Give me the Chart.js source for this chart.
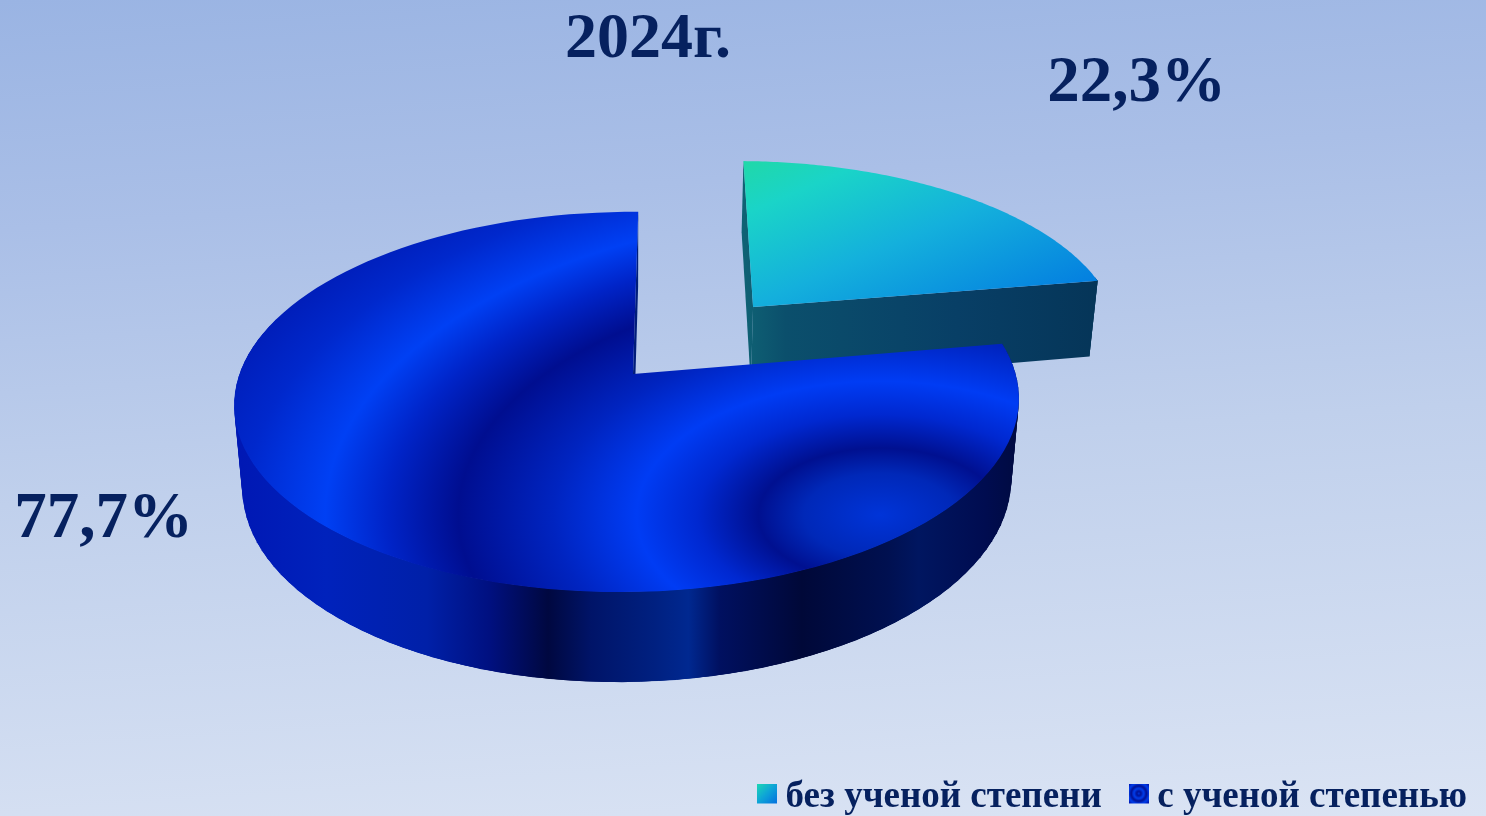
<!DOCTYPE html>
<html>
<head>
<meta charset="utf-8">
<script src="https://cdn.jsdelivr.net/npm/chart.js@4"></script>
<style>
  html, body { margin: 0; padding: 0; width: 1486px; height: 816px; overflow: hidden; }
  body { background: linear-gradient(176deg, #9ab4e3 0%, #aabfe7 25%, #c0d0ec 55%, #dbe4f4 100%); }
  canvas { display: block; }
</style>
</head>
<body>
<canvas id="c" width="1486" height="816"></canvas>
<script>
const titleText = '2024г.';
const categories = ['без ученой степени', 'с ученой степенью'];
const values = [22.3, 77.7];
const valueLabels = ['22,3%', '77,7%'];
const pieColors = ['#10a0d8', '#0030e0'];
const explode = [100, 0];

const TEXT = '#06215f';
const SERIF = '"Liberation Serif", serif';

// проекция единичного круга диска на экран (перспектива 3D-диаграммы)
const P = { cx: 633, cy: 374, A: 388, B: 186, C: -6, H: 83, k: 0.147, m: 0.014, n: 0.02 };
function proj(u, v, z) {
  const w = 1 - P.k * v + P.m * u + P.n * z;
  return [P.cx + (P.A * u + P.C * v) / w, P.cy + (P.B * v + P.H * z) / w];
}

function outline(arc) {
  const { startAngle, endAngle, outerRadius } = arc;
  const mid = (startAngle + endAngle) / 2;
  const off = arc.options.offset / outerRadius;
  const ox = Math.cos(mid) * off, oy = Math.sin(mid) * off;
  const pts = [[ox, oy]];
  const n = 120;
  for (let i = 0; i <= n; i++) {
    const a = startAngle + (endAngle - startAngle) * i / n;
    pts.push([ox + Math.cos(a), oy + Math.sin(a), Math.sin(a)]);
  }
  return pts;
}

function wallStyle(ctx, i) {
  const g = i === 0 ? ctx.createLinearGradient(743, 0, 1100, 0) : ctx.createLinearGradient(240, 0, 1020, 0);
  const stops = i === 0
    ? [[0, '#0f6274'], [0.12, '#0b4f6c'], [0.6, '#083f66'], [1, '#053558']]
    : [[0, '#0018b4'], [0.11, '#0022bc'], [0.24, '#0020a8'], [0.32, '#001080'], [0.395, '#000840'],
       [0.45, '#001468'], [0.53, '#002080'], [0.575, '#002890'], [0.615, '#001060'], [0.72, '#000838'],
       [0.83, '#001050'], [0.87, '#001660'], [0.955, '#000c50'], [1, '#000a40']];
  stops.forEach(s => g.addColorStop(s[0], s[1]));
  return g;
}

function fillPoly(ctx, poly) {
  ctx.beginPath();
  poly.forEach((s, j) => { if (j) ctx.lineTo(s[0], s[1]); else ctx.moveTo(s[0], s[1]); });
  ctx.closePath();
  ctx.fill();
}

function strip(a, b) {
  return [proj(a[0], a[1], 0), proj(b[0], b[1], 0), proj(b[0], b[1], 1), proj(a[0], a[1], 1)];
}

function drawSlice(ctx, arc, i) {
  const pts = outline(arc);
  const last = pts.length - 1;
  ctx.fillStyle = wallStyle(ctx, i);
  // плоские грани: у большого сектора задняя не видна
  if (i === 0) fillPoly(ctx, strip(pts[0], pts[1]));
  fillPoly(ctx, strip(pts[last], pts[0]));
  // внешняя дуга: куски внахлёст, чтобы не было швов, задняя часть не рисуется
  for (let j = 1; j < last; j++) {
    if (pts[j][2] < -0.2) continue;
    fillPoly(ctx, strip(pts[j], pts[Math.min(j + 3, last)]));
  }

  ctx.beginPath();
  pts.forEach((p, j) => {
    const s = proj(p[0], p[1], 0);
    if (j) ctx.lineTo(s[0], s[1]); else ctx.moveTo(s[0], s[1]);
  });
  ctx.closePath();
  ctx.save();
  if (i === 0) {
    const g = ctx.createLinearGradient(745, 160, 842, 387);
    g.addColorStop(0, '#20d8a8');
    g.addColorStop(0.2, '#1ad4c8');
    g.addColorStop(0.55, '#14b0dc');
    g.addColorStop(1, '#0480e0');
    ctx.fillStyle = g;
  } else {
    // концентрические полосы заливки
    ctx.translate(880, 515);
    ctx.scale(1, 0.55);
    const g = ctx.createRadialGradient(0, 0, 0, 0, 0, 760);
    [[0, '#0034d8'], [0.1, '#0028b8'], [0.16, '#001090'], [0.24, '#0028d0'], [0.32, '#003cf4'],
     [0.43, '#0024c0'], [0.555, '#000e90'], [0.65, '#0024c8'], [0.73, '#0040f4'], [0.84, '#0028cc'], [1, '#0014a8']]
      .forEach(s => g.addColorStop(s[0], s[1]));
    ctx.fillStyle = g;
  }
  ctx.fill();
  ctx.restore();
}

function icon(i) {
  // холст выше значка: легенда центрирует его по строке, а значок стоит чуть выше
  const cv = document.createElement('canvas');
  cv.width = 20; cv.height = 28;
  const x = cv.getContext('2d');
  if (i === 0) {
    const g = x.createLinearGradient(0, 0, 20, 20);
    g.addColorStop(0, '#1cd8b4'); g.addColorStop(0.5, '#0ea4d8'); g.addColorStop(1, '#0470e0');
    x.fillStyle = g;
  } else {
    const g = x.createRadialGradient(10, 10, 0, 10, 10, 13);
    [[0, '#0040f0'], [0.15, '#000e90'], [0.38, '#0040f0'], [0.58, '#000e90'], [0.8, '#0040f0'], [1, '#0018b0']]
      .forEach(s => g.addColorStop(s[0], s[1]));
    x.fillStyle = g;
  }
  x.fillRect(0, 0, 20, 20);
  return cv;
}

const pie3d = {
  id: 'pie3d',
  beforeDatasetsDraw(chart) {
    const ctx = chart.ctx;
    const arcs = chart.getDatasetMeta(0).data;
    ctx.save();
    arcs.forEach((arc, i) => drawSlice(ctx, arc, i));
    ctx.restore();
    return false;
  },
  afterDraw(chart) {
    const ctx = chart.ctx;
    ctx.save();
    ctx.fillStyle = TEXT;
    ctx.textAlign = 'center';
    ctx.textBaseline = 'alphabetic';
    ctx.font = 'bold 64px ' + SERIF;
    ctx.fillText(titleText, 648, 57);
    ctx.font = 'bold 65px ' + SERIF;
    ctx.fillText(valueLabels[0], 1136.5, 101);
    ctx.fillText(valueLabels[1], 103.5, 537);
    ctx.restore();
  }
};

new Chart(document.getElementById('c'), {
  type: 'pie',
  data: {
    labels: categories,
    datasets: [{ data: values, backgroundColor: pieColors, offset: explode, borderWidth: 0 }]
  },
  plugins: [pie3d],
  options: {
    responsive: false,
    animation: false,
    radius: 200,
    layout: { padding: { right: -18, bottom: -10 } },
    plugins: {
      tooltip: { enabled: false },
      legend: {
        position: 'bottom',
        align: 'end',
        labels: {
          usePointStyle: true,
          pointStyleWidth: 0.01,
          padding: 37,
          color: TEXT,
          font: { family: SERIF, size: 37, weight: 'bold' },
          generateLabels: () => categories.map((t, i) => ({
            text: t, pointStyle: icon(i), fontColor: TEXT, hidden: false, index: i, lineWidth: 0
          }))
        }
      }
    }
  }
});
</script>
</body>
</html>
